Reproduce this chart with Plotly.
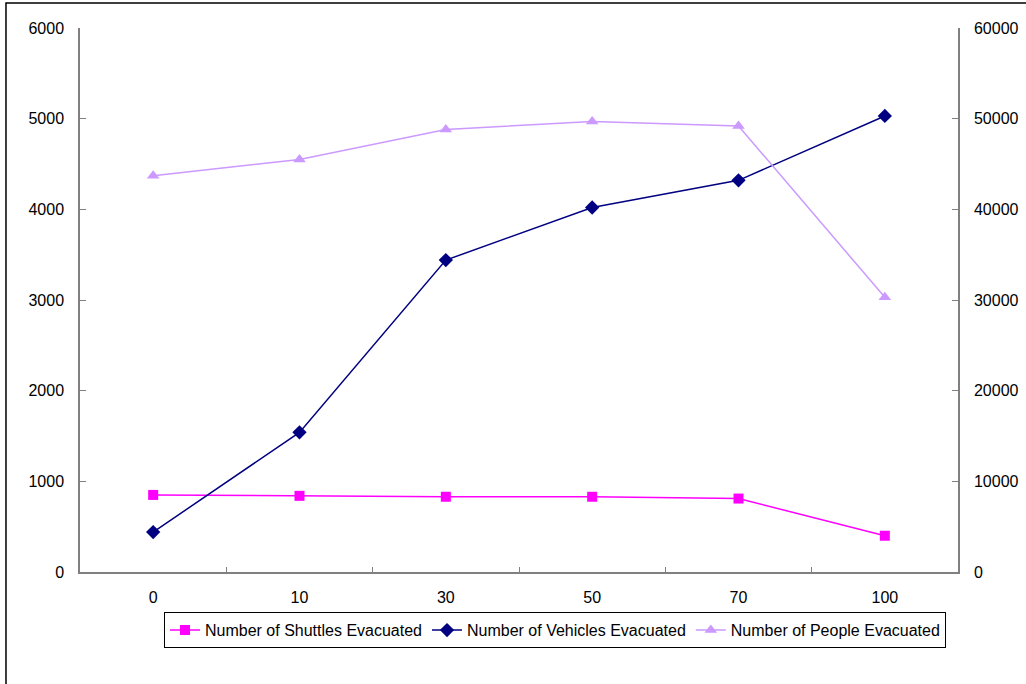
import plotly.graph_objects as go

categories = ["0", "10", "30", "50", "70", "100"]
shuttles = [850, 840, 830, 830, 810, 400]
vehicles = [440, 1540, 3440, 4020, 4320, 5030]
people = [43700, 45500, 48800, 49700, 49200, 30300]

left_ticks = [0, 1000, 2000, 3000, 4000, 5000, 6000]
right_ticks = [0, 10000, 20000, 30000, 40000, 50000, 60000]

font = dict(family="Liberation Sans, Arial, sans-serif", size=16, color="#000000")

fig = go.Figure()
fig.add_trace(go.Scatter(
    x=categories, y=shuttles, name="Number of Shuttles Evacuated",
    mode="lines+markers", line=dict(color="#FF00FF", width=1.5),
    marker=dict(symbol="square", size=10, color="#FF00FF"), yaxis="y"))
fig.add_trace(go.Scatter(
    x=categories, y=vehicles, name="Number of Vehicles Evacuated",
    mode="lines+markers", line=dict(color="#000080", width=1.5),
    marker=dict(symbol="diamond", size=11, color="#000080"), yaxis="y"))
fig.add_trace(go.Scatter(
    x=categories, y=people, name="Number of People Evacuated",
    mode="lines+markers", line=dict(color="#CC99FF", width=1.5),
    marker=dict(symbol="triangle-up", size=11, color="#CC99FF"), yaxis="y2"))

fig.update_layout(
    width=1026, height=684,
    margin=dict(l=80, r=68, t=28, b=112, autoexpand=False),
    paper_bgcolor="white", plot_bgcolor="white",
    font=font,
    xaxis=dict(type="category", categoryorder="array", categoryarray=categories,
               range=[-0.5, len(categories) - 0.5],
               showline=True, linecolor="#808080", linewidth=1.5,
               ticks="inside", tickson="boundaries", ticklen=5, tickcolor="#808080",
               showgrid=False, zeroline=False, ticklabelstandoff=10,
               tickfont=font, automargin=False),
    yaxis=dict(range=[0, 6000], tickvals=left_ticks, tickformat="d", showline=True,
               linecolor="#808080", linewidth=1.5, ticks="inside", ticklen=6,
               tickcolor="#808080", showgrid=False, zeroline=False,
               ticklabelstandoff=11, tickfont=font, automargin=False),
    yaxis2=dict(range=[0, 60000], tickvals=right_ticks, tickformat="d",
                overlaying="y", side="right",
                showline=True, linecolor="#808080", linewidth=1.5, ticks="inside",
                ticklen=6, tickcolor="#808080", showgrid=False, zeroline=False,
                ticklabelstandoff=11, tickfont=font, automargin=False),
    legend=dict(orientation="h", x=0.541, xanchor="center", y=-0.107, yanchor="middle",
                bordercolor="#000000", borderwidth=1, bgcolor="white",
                font=dict(family="Liberation Sans, Arial, sans-serif", size=16),
                tracegroupgap=0),
    showlegend=True,
)

fig.add_shape(type="rect", xref="paper", yref="paper",
              x0=-0.0843, y0=-0.4, x1=1.2, y1=1.046,
              line=dict(color="#000000", width=1.5), fillcolor="rgba(0,0,0,0)",
              layer="below")

fig.write_html("out.html",
               config={"displayModeBar": False},
               post_script="document.body.style.margin='0';document.body.style.overflow='hidden';")
